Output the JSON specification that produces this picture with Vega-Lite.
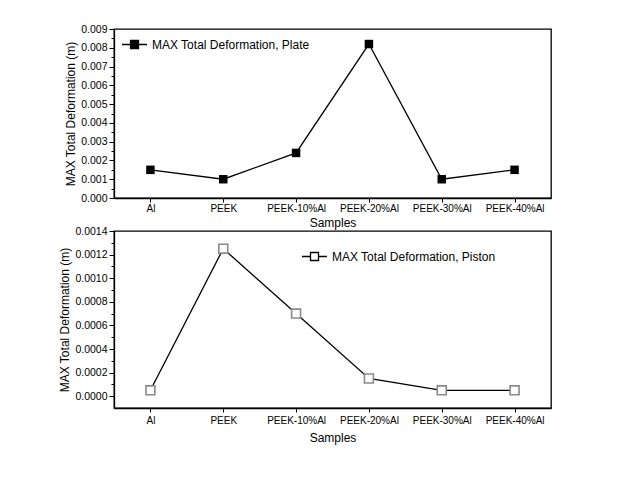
{
  "$schema": "https://vega.github.io/schema/vega-lite/v6.json",
  "padding": {"left": 58, "top": 23, "right": 5, "bottom": 5},
  "background": "white",
  "config": {
    "font": "Liberation Sans",
    "view": {"stroke": "black", "strokeWidth": 1.3},
    "axis": {
      "domainColor": "black", "domainWidth": 1.3, "tickColor": "black", "tickWidth": 1,
      "labelColor": "black", "titleColor": "black", "grid": false,
      "labelFont": "Liberation Sans", "titleFont": "Liberation Sans",
      "titleFontWeight": "normal", "titleFontSize": 12
    },
    "legend": {"labelFont": "Liberation Sans", "labelFontSize": 12, "labelColor": "black", "labelLimit": 400}
  },
  "datasets": {
    "d": [
      {"sample": "Al", "plate": 0.0015, "piston": 0.00005},
      {"sample": "PEEK", "plate": 0.0010, "piston": 0.00125},
      {"sample": "PEEK-10%Al", "plate": 0.0024, "piston": 0.00070},
      {"sample": "PEEK-20%Al", "plate": 0.0082, "piston": 0.00015},
      {"sample": "PEEK-30%Al", "plate": 0.0010, "piston": 0.00005},
      {"sample": "PEEK-40%Al", "plate": 0.0015, "piston": 0.00005}
    ]
  },
  "spacing": -4,
  "resolve": {"legend": {"color": "independent"}, "scale": {"color": "independent"}},
  "vconcat": [
    {
      "width": 437,
      "height": 169,
      "data": {"name": "d"},
      "encoding": {
        "x": {"field": "sample", "type": "nominal", "sort": null, "title": "Samples",
          "scale": {"type": "point", "padding": 0.5},
          "axis": {"labelAngle": 0, "labelFontSize": 10, "tickSize": 4, "labelPadding": 1, "titlePadding": 4}},
        "y": {"field": "plate", "type": "quantitative", "title": "MAX Total Deformation (m)",
          "scale": {"domain": [0, 0.009], "nice": false, "zero": false},
          "axis": {
            "values": [0, 0.0005, 0.001, 0.0015, 0.002, 0.0025, 0.003, 0.0035, 0.004, 0.0045, 0.005, 0.0055, 0.006, 0.0065, 0.007, 0.0075, 0.008, 0.0085, 0.009],
            "labelExpr": "abs(datum.value*1000 - round(datum.value*1000)) < 1e-6 ? format(datum.value, '.3f') : ''",
            "tickSize": {"condition": {"test": "abs(datum.value*1000 - round(datum.value*1000)) > 1e-6", "value": 3}, "value": 5},
            "labelFontSize": 10.5, "labelPadding": 2, "titlePadding": 3}}
      },
      "layer": [
        {"mark": {"type": "line", "color": "black", "strokeWidth": 1.3}},
        {"mark": {"type": "point", "shape": "square", "filled": true, "size": 72, "opacity": 1},
          "encoding": {
            "color": {"datum": "MAX Total Deformation, Plate", "type": "nominal",
              "scale": {"range": ["black"]},
              "legend": {"title": null, "orient": "none", "legendX": 7, "legendY": 2, "padding": 0,
                "symbolType": "M-1,0H-0.32M0.32,0H1M-0.32,-0.32H0.32V0.32H-0.32Z",
                "symbolSize": 625, "symbolStrokeWidth": 1.3, "symbolStrokeColor": "black", "symbolFillColor": "black", "symbolOpacity": 1, "labelOffset": 4}}
          }}
      ]
    },
    {
      "width": 437,
      "height": 177,
      "data": {"name": "d"},
      "encoding": {
        "x": {"field": "sample", "type": "nominal", "sort": null, "title": "Samples",
          "scale": {"type": "point", "padding": 0.5},
          "axis": {"labelAngle": 0, "labelFontSize": 10, "tickSize": 4, "labelPadding": 3, "titlePadding": 7}},
        "y": {"field": "piston", "type": "quantitative", "title": "MAX Total Deformation (m)",
          "scale": {"domain": [-0.0001, 0.0014], "nice": false, "zero": false},
          "axis": {
            "values": [0, 0.0001, 0.0002, 0.0003, 0.0004, 0.0005, 0.0006, 0.0007, 0.0008, 0.0009, 0.001, 0.0011, 0.0012, 0.0013, 0.0014],
            "labelExpr": "abs(datum.value*5000 - round(datum.value*5000)) < 1e-6 ? format(datum.value, '.4f') : ''",
            "tickSize": {"condition": {"test": "abs(datum.value*5000 - round(datum.value*5000)) > 1e-6", "value": 3}, "value": 5},
            "labelFontSize": 10.5, "labelPadding": 2, "titlePadding": 3}}
      },
      "layer": [
        {"mark": {"type": "line", "strokeWidth": 1.3},
          "encoding": {
            "color": {"datum": "MAX Total Deformation, Piston", "type": "nominal",
              "scale": {"range": ["black"]},
              "legend": {"title": null, "orient": "none", "legendX": 187, "legendY": 12, "padding": 0,
                "symbolType": "M-1,0H-0.32M0.32,0H1M-0.32,-0.32H0.32V0.32H-0.32Z", "symbolSize": 625, "symbolStrokeWidth": 1.3, "labelOffset": 4}}
          }},
        {"mark": {"type": "point", "shape": "square", "filled": false, "size": 80, "strokeWidth": 1.6, "color": "#8a8a8a", "fill": "white", "fillOpacity": 1, "opacity": 1}}
      ]
    }
  ]
}
